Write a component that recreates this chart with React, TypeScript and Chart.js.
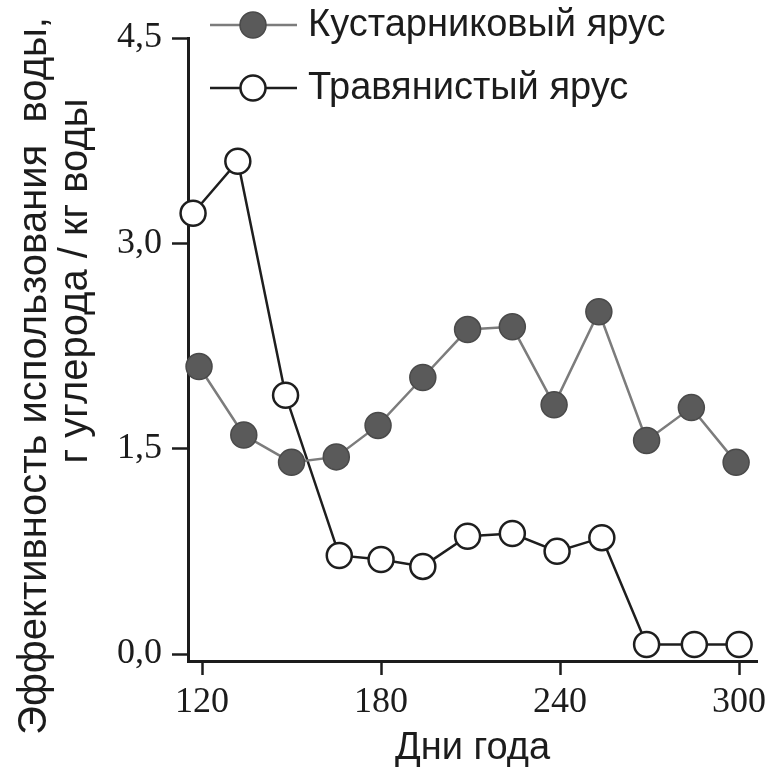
import React, { useEffect, useRef } from 'react';
import { Chart, registerables } from 'chart.js';

Chart.register(...registerables);

// values
const shrubDays = [119, 134, 150, 165, 179, 194, 209, 224, 238, 253, 269, 284, 299];
const shrubValues = [2.1, 1.6, 1.4, 1.44, 1.67, 2.02, 2.37, 2.39, 1.82, 2.5, 1.56, 1.8, 1.4];
const grassDays = [117, 132, 148, 166, 180, 194, 209, 224, 239, 254, 269, 285, 300];
const grassValues = [3.22, 3.6, 1.89, 0.72, 0.69, 0.64, 0.86, 0.88, 0.75, 0.85, 0.07, 0.07, 0.07];
const seriesLabels = ['Кустарниковый ярус', 'Травянистый ярус'];
const xTicks = [120, 180, 240, 300];
const yTicks = [0, 1.5, 3, 4.5];
const xTitle = 'Дни года';
const yTitleLines = ['Эффективность использования  воды,', 'г углерода / кг воды'];

const INK = '#1c1c1c';
const SANS = '"Liberation Sans", Arial, sans-serif';
const SERIF = '"Liberation Serif", "Times New Roman", serif';

// y title (two offset lines) and the legend in the top left
const extras = {
  id: 'extras',
  afterDraw(chart: any) {
    const ctx = chart.ctx;
    ctx.save();
    ctx.fillStyle = INK;
    ctx.font = `40px ${SANS}`;
    ctx.textAlign = 'center';
    ctx.textBaseline = 'middle';
    const titlePos = [
      [35, 376],
      [76, 281],
    ];
    yTitleLines.forEach((t, i) => {
      ctx.save();
      ctx.translate(titlePos[i][0], titlePos[i][1]);
      ctx.rotate(-Math.PI / 2);
      ctx.fillText(t, 0, 0);
      ctx.restore();
    });

    chart.data.datasets.forEach((ds: any, i: number) => {
      const y = 25 + i * 63;
      ctx.strokeStyle = ds.borderColor;
      ctx.lineWidth = ds.borderWidth;
      ctx.beginPath();
      ctx.moveTo(210, y);
      ctx.lineTo(297, y);
      ctx.stroke();
      ctx.beginPath();
      ctx.arc(253, y, ds.pointRadius, 0, Math.PI * 2);
      ctx.fillStyle = ds.pointBackgroundColor;
      ctx.fill();
      ctx.strokeStyle = ds.pointBorderColor;
      ctx.lineWidth = ds.pointBorderWidth;
      ctx.stroke();
      ctx.fillStyle = INK;
      ctx.font = `38px ${SANS}`;
      ctx.textAlign = 'left';
      ctx.fillText(ds.label, 308, y + 1);
    });
    ctx.restore();
  },
};

const WueChart = () => {
  const chartRef = useRef<HTMLCanvasElement>(null);

  useEffect(() => {
    if (!chartRef.current) return;
    const ctx = chartRef.current.getContext('2d');
    const chart = new Chart(ctx as any, {
      type: 'line',
      data: {
        datasets: [
          {
            label: seriesLabels[0],
            data: shrubDays.map((d, i) => ({ x: d, y: shrubValues[i] })),
            borderColor: '#7c7c7c',
            borderWidth: 2.5,
            pointRadius: 13,
            pointBackgroundColor: '#5a5a5a',
            pointBorderColor: '#4a4a4a',
            pointBorderWidth: 1.5,
            clip: false as any,
          },
          {
            label: seriesLabels[1],
            data: grassDays.map((d, i) => ({ x: d, y: grassValues[i] })),
            borderColor: '#1e1e1e',
            borderWidth: 2.5,
            pointRadius: 12.5,
            pointBackgroundColor: '#ffffff',
            pointBorderColor: '#1e1e1e',
            pointBorderWidth: 2.5,
            clip: false as any,
          },
        ],
      },
      options: {
        animation: false,
        responsive: true,
        maintainAspectRatio: false,
        layout: { padding: { left: 0, top: 38, right: 19, bottom: 0 } },
        plugins: {
          legend: { display: false },
          tooltip: { enabled: false },
        },
        scales: {
          x: {
            type: 'linear',
            min: 115.3,
            max: 306,
            afterBuildTicks: (scale: any) => {
              scale.ticks = xTicks.map((v) => ({ value: v }));
            },
            afterFit: (scale: any) => {
              scale.height = 117;
            },
            border: { display: true, color: INK, width: 3 },
            grid: {
              drawOnChartArea: false,
              drawTicks: true,
              tickLength: 14,
              tickColor: INK,
              tickWidth: 2.5,
            },
            ticks: {
              padding: 6,
              color: INK,
              font: { family: SERIF, size: 36 },
              maxRotation: 0,
            },
            title: {
              display: true,
              text: xTitle,
              color: INK,
              font: { family: SANS, size: 38 },
              padding: { top: 0, bottom: 7 },
            },
          },
          y: {
            min: -0.051,
            max: 4.5,
            afterBuildTicks: (scale: any) => {
              scale.ticks = yTicks.map((v) => ({ value: v }));
            },
            afterFit: (scale: any) => {
              scale.width = 188;
            },
            border: { display: true, color: INK, width: 3 },
            grid: {
              drawOnChartArea: false,
              drawTicks: true,
              tickLength: 16,
              tickColor: INK,
              tickWidth: 2.5,
            },
            ticks: {
              padding: 10,
              color: INK,
              font: { family: SERIF, size: 36 },
              callback: (v: any) => Number(v).toFixed(1).replace('.', ','),
            },
          },
        },
      },
      plugins: [extras],
    });
    return () => {
      chart.destroy();
    };
  }, []);

  return (
    <div style={{ position: 'fixed', left: 0, top: 0, width: 776, height: 778, background: '#fff' }}>
      <canvas ref={chartRef} />
    </div>
  );
};

export default function App() {
  return <WueChart />;
}
